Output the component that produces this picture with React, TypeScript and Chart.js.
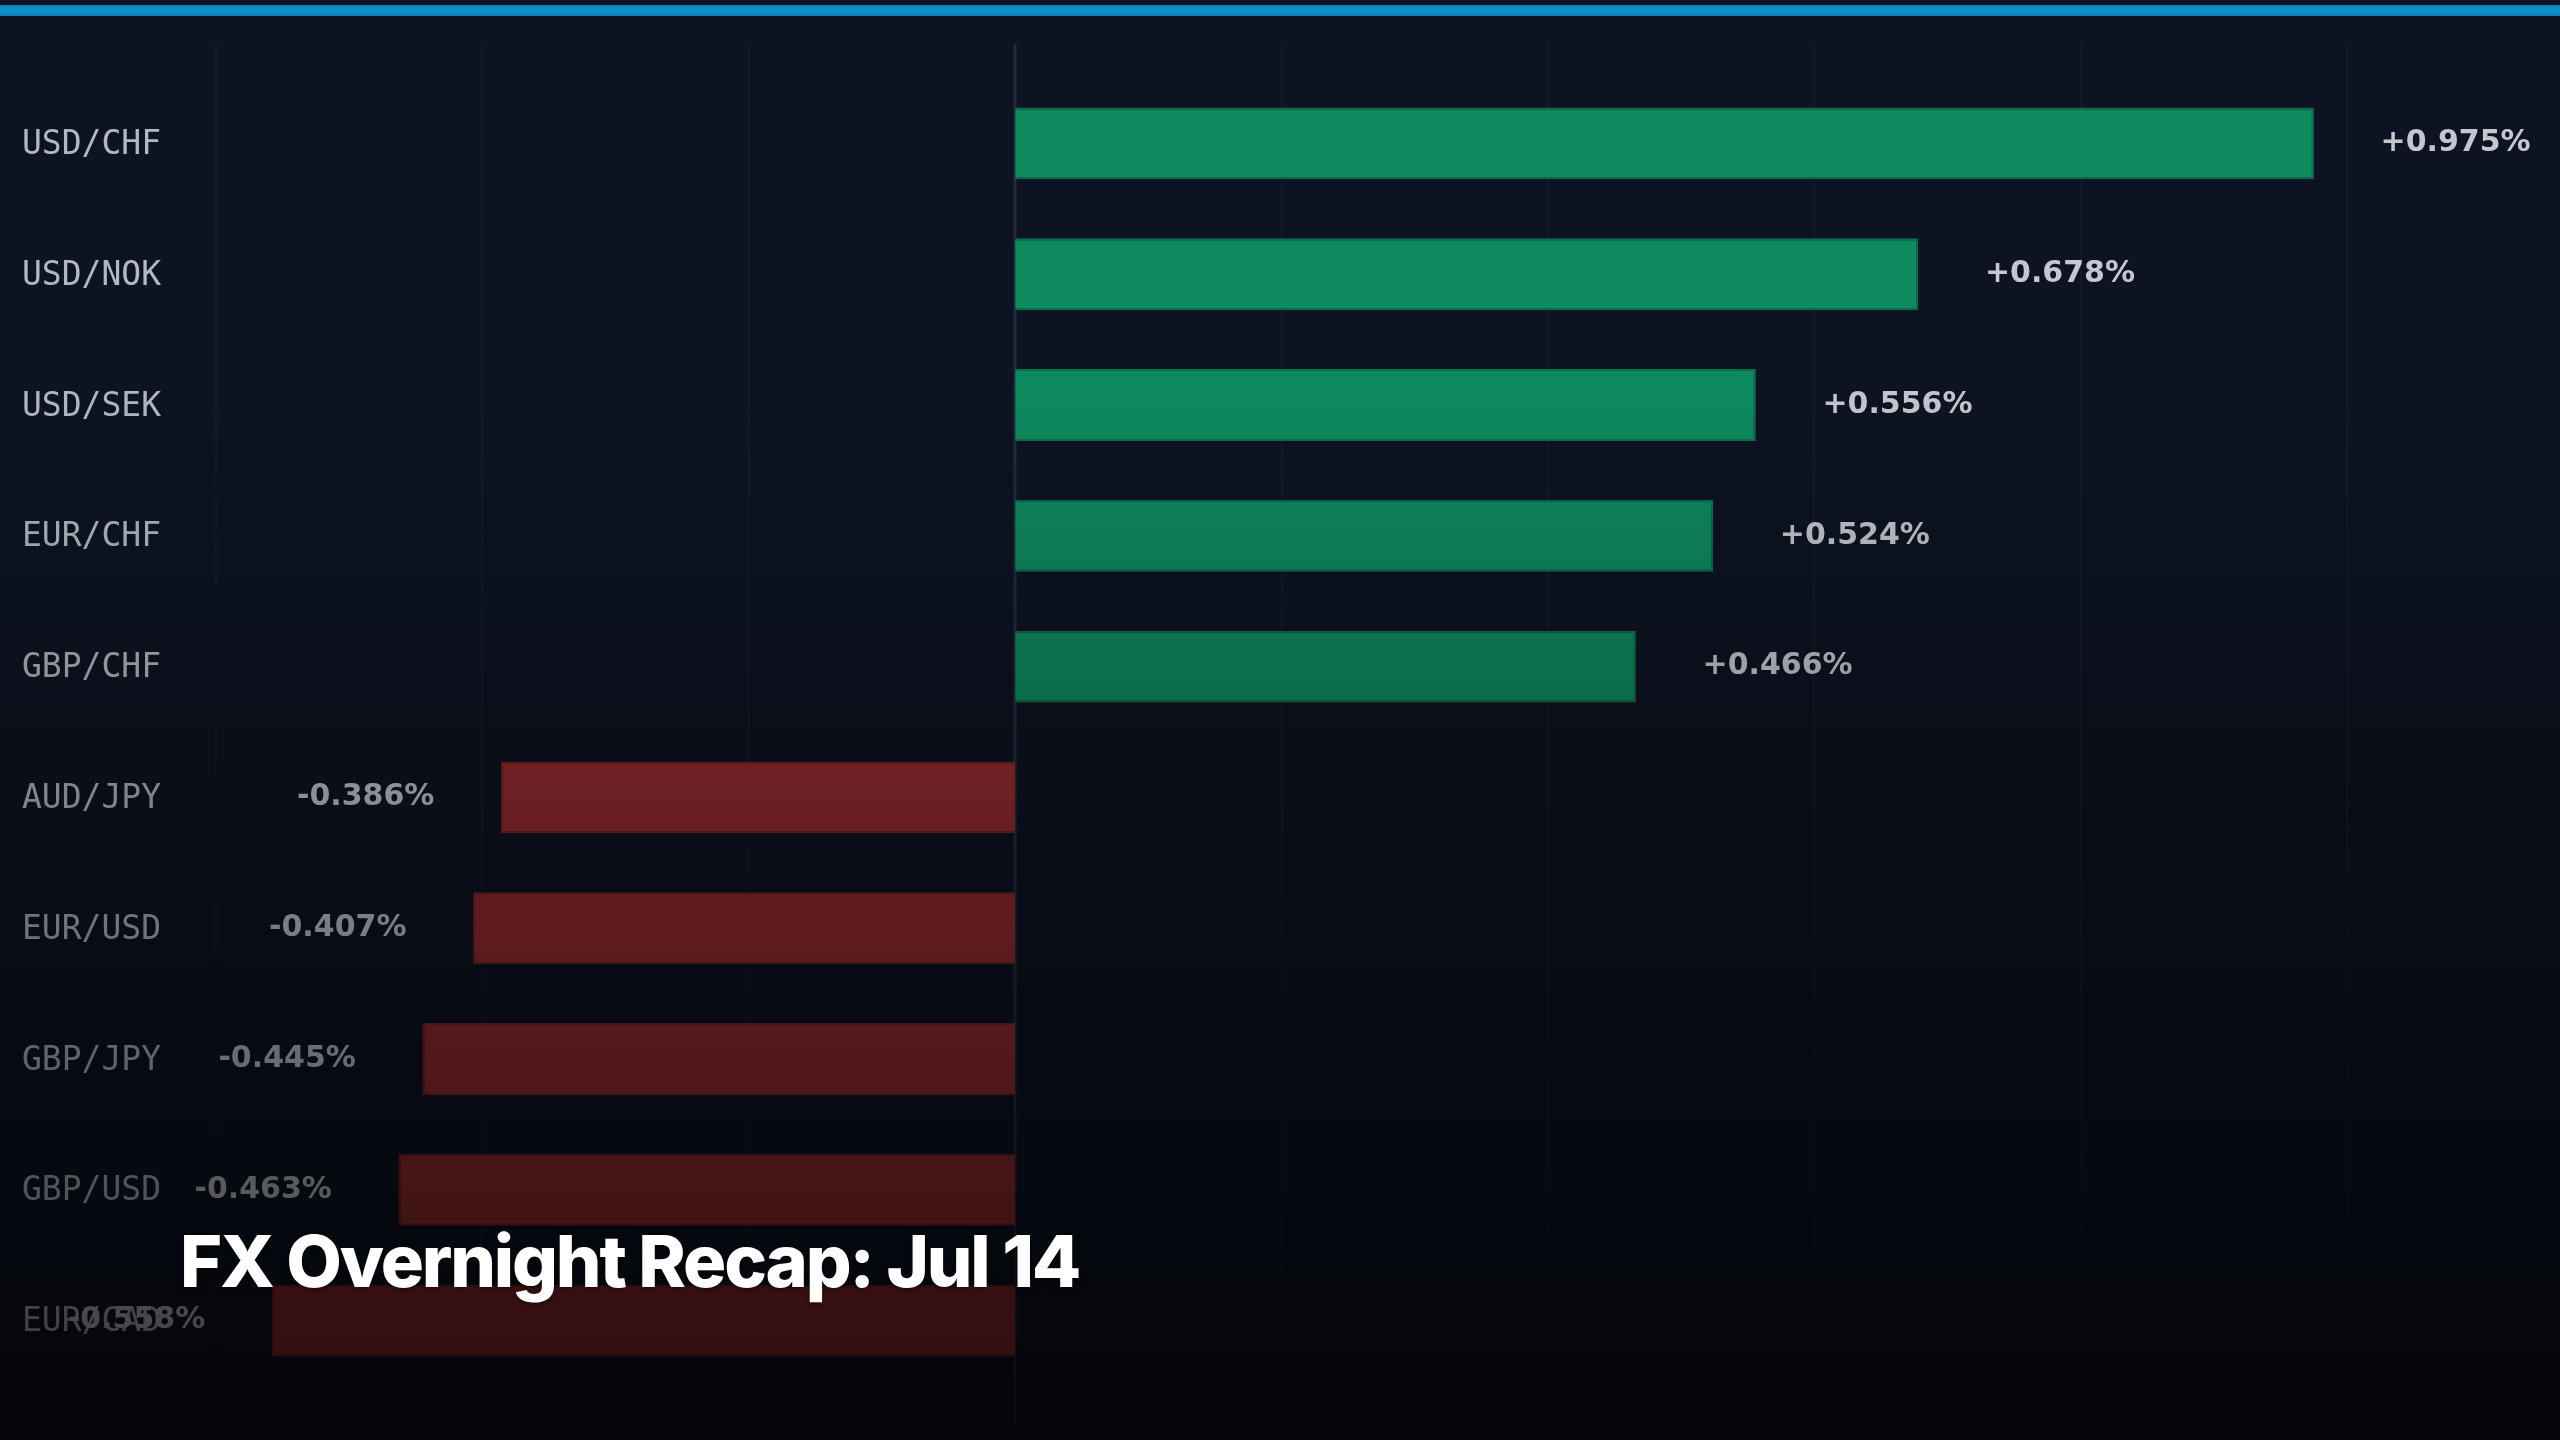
import React, { useEffect, useRef } from 'react';
import { Chart, registerables } from 'chart.js';

Chart.register(...registerables);

// ---- data ----
const PAIRS = ['USD/CHF', 'USD/NOK', 'USD/SEK', 'EUR/CHF', 'GBP/CHF', 'AUD/JPY', 'EUR/USD', 'GBP/JPY', 'GBP/USD', 'EUR/CAD'];
const CHANGES = [0.975, 0.678, 0.556, 0.524, 0.466, -0.386, -0.407, -0.445, -0.463, -0.558];
const GRID_TICKS = [-0.6, -0.4, -0.2, 0, 0.2, 0.4, 0.6, 0.8, 1.0];
const TITLE = 'FX Overnight Recap: Jul 14';

// ---- style ----
const W = 2560;
const H = 1440;
const BG = 'rgb(13,19,34)';
const UP_FILL = 'rgb(14,138,95)';
const UP_BORDER = 'rgb(11,112,77)';
const DOWN_FILL = 'rgb(150,44,48)';
const DOWN_BORDER = 'rgb(122,36,39)';
const LABEL_OFFSET = 0.05;

const bgPlugin = {
  id: 'bgPlugin',
  beforeDraw(chart: any) {
    const { ctx } = chart;
    ctx.save();
    ctx.fillStyle = BG;
    ctx.fillRect(0, 0, chart.width, chart.height);
    ctx.restore();
  },
};

const gridPlugin = {
  id: 'gridPlugin',
  beforeDatasetsDraw(chart: any) {
    const { ctx, chartArea, scales } = chart;
    const top = chartArea.top - 34;
    const bottom = chartArea.bottom + 37;
    ctx.save();
    GRID_TICKS.forEach((t) => {
      const x = Math.round(scales.x.getPixelForValue(t));
      ctx.beginPath();
      if (t === 0) {
        ctx.strokeStyle = 'rgba(150,170,200,0.16)';
        ctx.lineWidth = 3;
      } else {
        ctx.strokeStyle = 'rgba(150,170,200,0.045)';
        ctx.lineWidth = 2;
      }
      ctx.moveTo(x, top);
      ctx.lineTo(x, bottom);
      ctx.stroke();
    });
    ctx.restore();
  },
};

const categoryLabelPlugin = {
  id: 'categoryLabelPlugin',
  afterDatasetsDraw(chart: any) {
    const { ctx, scales } = chart;
    const yScale = scales.y;
    ctx.save();
    ctx.font = '33px "DejaVu Sans Mono"';
    ctx.fillStyle = 'rgb(178,184,194)';
    ctx.textAlign = 'left';
    ctx.textBaseline = 'middle';
    (chart.data.labels as string[]).forEach((lab, i) => {
      ctx.fillText(lab, yScale.left, yScale.getPixelForValue(i) + 2);
    });
    ctx.restore();
  },
};

const valueLabelPlugin = {
  id: 'valueLabelPlugin',
  afterDatasetsDraw(chart: any) {
    const { ctx, scales } = chart;
    const meta = chart.getDatasetMeta(0);
    ctx.save();
    ctx.font = 'bold 30px "DejaVu Sans"';
    ctx.fillStyle = 'rgb(196,199,206)';
    ctx.textBaseline = 'middle';
    meta.data.forEach((el: any, i: number) => {
      const v = CHANGES[i];
      const pos = v >= 0;
      const x = scales.x.getPixelForValue(v + (pos ? LABEL_OFFSET : -LABEL_OFFSET));
      ctx.textAlign = pos ? 'left' : 'right';
      const txt = (pos ? '+' : '') + v.toFixed(3) + '%';
      ctx.fillText(txt, x, el.y);
    });
    ctx.restore();
  },
};

const fadePlugin = {
  id: 'fadePlugin',
  afterDraw(chart: any) {
    const { ctx } = chart;
    ctx.save();
    const g = ctx.createLinearGradient(0, 380, 0, chart.height);
    g.addColorStop(0, 'rgba(0,0,0,0)');
    g.addColorStop(1, 'rgba(0,0,0,0.72)');
    ctx.fillStyle = g;
    ctx.fillRect(0, 0, chart.width, chart.height);
    ctx.restore();
  },
};

function FxChart() {
  const ref = useRef<HTMLCanvasElement | null>(null);
  useEffect(() => {
    if (!ref.current) return;
    const chart = new Chart(ref.current, {
      type: 'bar',
      data: {
        labels: PAIRS,
        datasets: [
          {
            data: CHANGES,
            backgroundColor: CHANGES.map((v) => (v >= 0 ? UP_FILL : DOWN_FILL)),
            borderColor: CHANGES.map((v) => (v >= 0 ? UP_BORDER : DOWN_BORDER)),
            borderWidth: 2,
            borderSkipped: 'start',
            barPercentage: 0.55,
            categoryPercentage: 1,
          },
        ],
      },
      options: {
        indexAxis: 'y',
        responsive: false,
        animation: false,
        devicePixelRatio: 1,
        layout: { padding: { top: 78, bottom: 54, left: 22, right: 13 } },
        plugins: {
          legend: { display: false },
          tooltip: { enabled: false },
          title: { display: false },
        },
        scales: {
          x: {
            type: 'linear',
            min: -0.63,
            max: 1.15,
            display: false,
          },
          y: {
            type: 'category',
            offset: true,
            grid: { display: false },
            border: { display: false },
            ticks: { display: false },
            afterFit(scale: any) {
              scale.width = 154;
            },
          },
        },
      },
      plugins: [bgPlugin, gridPlugin, categoryLabelPlugin, valueLabelPlugin, fadePlugin],
    } as any);
    return () => chart.destroy();
  }, []);

  return (
    <canvas
      ref={ref}
      width={W}
      height={H}
      style={{ position: 'absolute', left: 0, top: 0, width: W, height: H, display: 'block' }}
    />
  );
}

export default function App() {
  return (
    <div
      style={{
        position: 'fixed',
        left: 0,
        top: 0,
        width: W,
        height: H,
        overflow: 'hidden',
        background: BG,
      }}
    >
      <FxChart />
      <div
        style={{
          position: 'absolute',
          left: 0,
          top: 5,
          width: W,
          height: 11,
          background: 'linear-gradient(180deg, #0a7db2 0%, #0f90cc 30%, #0f90cc 70%, #0a7db2 100%)',
        }}
      />
      <div
        style={{
          position: 'absolute',
          left: 180,
          top: 1225,
          fontFamily: 'Inter, "Noto Sans", sans-serif',
          fontWeight: 800,
          fontSize: 72,
          lineHeight: '72px',
          letterSpacing: '-2.15px',
          color: '#ffffff',
          whiteSpace: 'nowrap',
          textShadow: '0 2px 6px rgba(0,0,0,0.5)',
        }}
      >
        {TITLE}
      </div>
    </div>
  );
}
